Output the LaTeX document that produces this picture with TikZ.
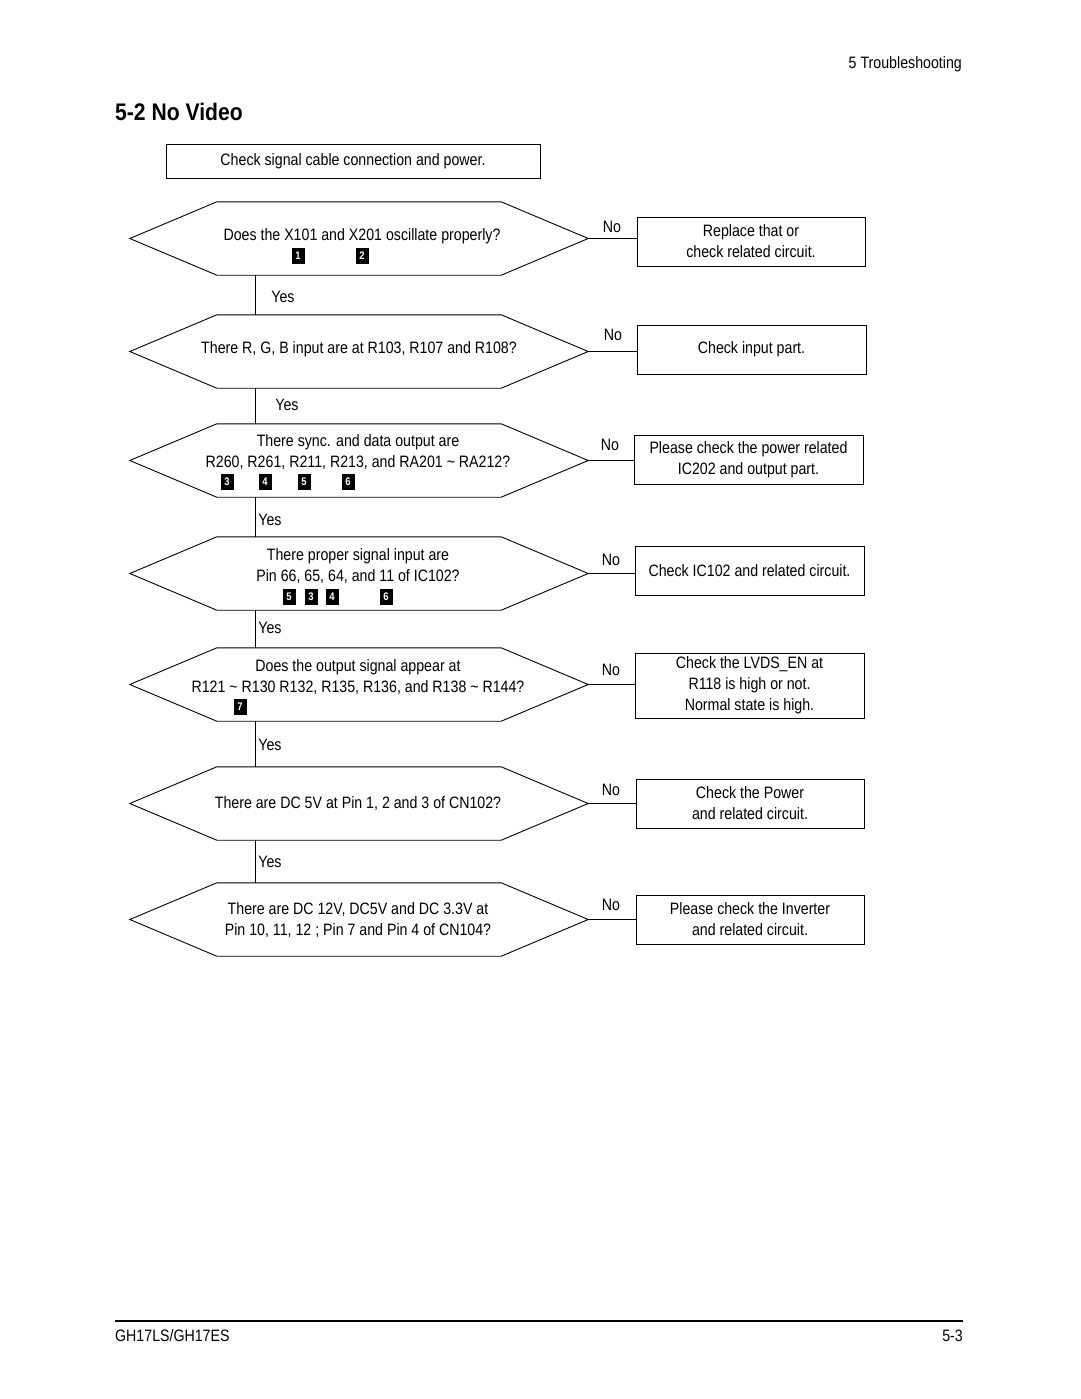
\documentclass[tikz,border=0pt]{standalone}
\usepackage{fontspec}
\setmainfont{Liberation Sans}[FakeStretch=0.86]
\newfontfamily\ttlfont{Liberation Sans}[FakeStretch=0.88]
\usetikzlibrary{calc}
\newcommand\hexq[2]{%
  \node[hexbox] (#1) at (359,#2+36.5) {};
  \coordinate (#1w) at ([xshift=-87pt]#1.west);
  \coordinate (#1e) at ([xshift=87pt]#1.east);
  \draw[conn] (#1w) -- (#1.north west) -- (#1.north east) -- (#1e) -- (#1.south east) -- (#1.south west) -- cycle;
}
\begin{document}
\begin{tikzpicture}[x=1pt,y=-1pt,
  every node/.style={font=\fontsize{16.5}{21}\selectfont, inner sep=0pt},
  conn/.style={line width=0.9pt},
  box/.style={draw, line width=0.9pt, align=center},
  hexbox/.style={minimum width=284pt, minimum height=73pt},
  txt/.style={align=center},
  mk/.style={fill=black, text=white, font=\fontsize{11}{11}\selectfont\bfseries, minimum width=13pt, minimum height=16pt}
]
\fill[white] (0,0) rectangle (1080,1399);
\useasboundingbox (0,0) rectangle (1080,1399);

% header
\node[anchor=east] (hdr) at (962,64) {5 Troubleshooting};
\node[anchor=west, font=\fontsize{24}{26}\ttlfont\bfseries] (title) at (115,112) {5-2 No Video};

% start box
\node[box, minimum width=374pt, minimum height=34pt] (start) at (353,161) {Check signal cable connection and power.};

% decision hexagons
\hexq{q1}{202}
\hexq{q2}{315}
\hexq{q3}{424}
\hexq{q4}{537}
\hexq{q5}{648}
\hexq{q6}{767}
\hexq{q7}{883}

% question texts
\node (t1) at (362,236) {Does the X101 and X201 oscillate properly?};
\node (t2) at (359,349) {There R, G, B input are at R103, R107 and R108?};
\node[txt] (t3) at (358,452) {There sync. and data output are\\R260, R261, R211, R213, and RA201 \textasciitilde{} RA212?};
\node[txt] (t4) at (358,566.5) {There proper signal input are\\Pin 66, 65, 64, and 11 of IC102?};
\node[txt] (t5) at (358,677) {Does the output signal appear at\\R121 \textasciitilde{} R130 R132, R135, R136, and R138 \textasciitilde{} R144?};
\node (t6) at (358,804) {There are DC 5V at Pin 1, 2 and 3 of CN102?};
\node[txt] (t7) at (358,920.5) {There are DC 12V, DC5V and DC 3.3V at\\Pin 10, 11, 12 ; Pin 7 and Pin 4 of CN104?};

% markers
\node[mk] (m1a) at (298,256) {1};
\node[mk] (m1b) at (362,256) {2};
\node[mk] (m3a) at (227,482) {3};
\node[mk] (m3b) at (265,482) {4};
\node[mk] (m3c) at (304,482) {5};
\node[mk] (m3d) at (348,482) {6};
\node[mk] (m4a) at (289,597) {5};
\node[mk] (m4b) at (311,597) {3};
\node[mk] (m4c) at (332,597) {4};
\node[mk] (m4d) at (386,597) {6};
\node[mk] (m5a) at (240,707) {7};

% result boxes
\node[box, minimum width=228pt, minimum height=49pt] (b1) at (751,241.5) {Replace that or\\check related circuit.};
\node[box, minimum width=229pt, minimum height=49pt] (b2) at (751.5,349.5) {Check input part.};
\node[box, minimum width=229pt, minimum height=49pt] (b3) at (748.5,459.5) {Please check the power related\\IC202 and output part.};
\node[box, minimum width=229pt, minimum height=49pt] (b4) at (749.5,570.5) {Check IC102 and related circuit.};
\node[box, minimum width=229pt, minimum height=65pt] (b5) at (749.5,685.5) {Check the LVDS\_EN at\\R118 is high or not.\\Normal state is high.};
\node[box, minimum width=228pt, minimum height=49pt] (b6) at (750,803.5) {Check the Power\\and related circuit.};
\node[box, minimum width=228pt, minimum height=49pt] (b7) at (750,919.5) {Please check the Inverter\\and related circuit.};

% No connectors
\foreach \i in {1,...,7} {
  \draw[conn] (q\i e) -- (q\i e -| b\i.west);
}
\node (n1) at (612,227) {No};
\node (n2) at (613,335) {No};
\node (n3) at (610,445) {No};
\node (n4) at (611,560) {No};
\node (n5) at (611,670) {No};
\node (n6) at (611,790) {No};
\node (n7) at (611,905) {No};

% Yes connectors
\coordinate (yx) at (255,0);
\draw[conn] (q1.south -| yx) -- (q2.north -| yx);
\draw[conn] (q2.south -| yx) -- (q3.north -| yx);
\draw[conn] (q3.south -| yx) -- (q4.north -| yx);
\draw[conn] (q4.south -| yx) -- (q5.north -| yx);
\draw[conn] (q5.south -| yx) -- (q6.north -| yx);
\draw[conn] (q6.south -| yx) -- (q7.north -| yx);
\node (y1) at (283,297) {Yes};
\node (y2) at (287,405) {Yes};
\node (y3) at (270,520) {Yes};
\node (y4) at (270,628) {Yes};
\node (y5) at (270,745) {Yes};
\node (y6) at (270,862) {Yes};

% footer
\coordinate (fl) at (115,1321);
\coordinate (fr) at (963,1321);
\draw[line width=2pt] (fl) -- (fr);
\node[anchor=west] (foot) at (115,1336) {GH17LS/GH17ES};
\node[anchor=east] (pg) at (963,1336) {5-3};
\end{tikzpicture}
\end{document}
